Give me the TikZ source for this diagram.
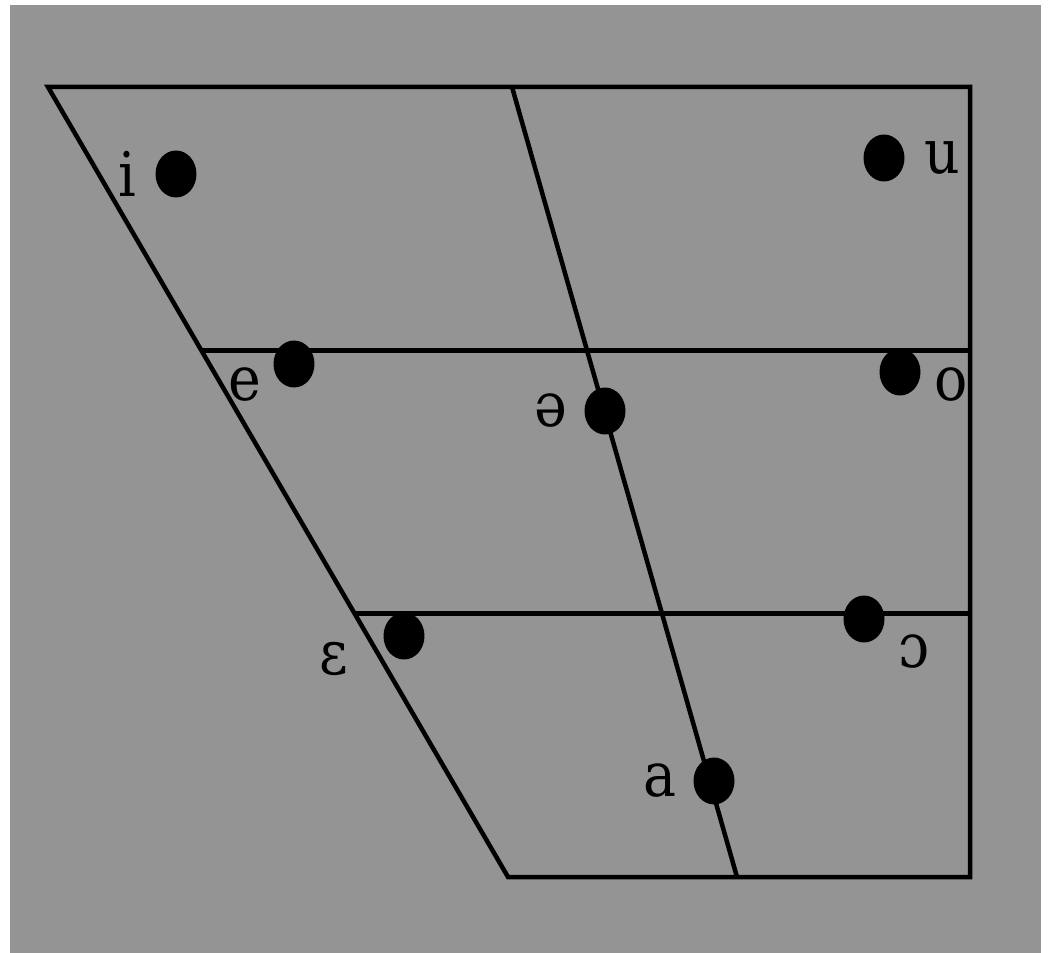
\documentclass[tikz,border=0pt]{standalone}
\usepackage{fontspec}
\setmainfont{DejaVu Serif}[FakeStretch=0.9]
\usetikzlibrary{shapes.geometric, positioning, calc}
\definecolor{chartgray}{RGB}{148,148,148}

\begin{document}
\begin{tikzpicture}[x=0.02cm, y=-0.02cm, line width=0.09cm,
    vowel/.style={fill=black, ellipse, inner sep=0pt, minimum width=0.82cm, minimum height=0.94cm},
    symb/.style={inner sep=0pt, font=\fontsize{35}{37}\selectfont}]
    % Background
    \fill[white] (0,0) rectangle (1049,953);
    \fill[chartgray] (10,5) rectangle (1041,953);
    \useasboundingbox (0,0) rectangle (1049,953);

    % Chart outline
    \coordinate (FrontHigh) at (48,87);
    \coordinate (BackHigh) at (970,87);
    \coordinate (BackLow) at (970,877);
    \coordinate (FrontLow) at (508,877);
    \coordinate (CentHigh) at (512,87);
    \coordinate (CentLow) at (737,877);
    \coordinate (FrontMidA) at ($(FrontHigh)!0.3333!(FrontLow)$);
    \coordinate (FrontMidB) at ($(FrontHigh)!0.6667!(FrontLow)$);
    \coordinate (BackMidA) at ($(BackHigh)!0.3333!(BackLow)$);
    \coordinate (BackMidB) at ($(BackHigh)!0.6667!(BackLow)$);

    \draw[line join=miter] (FrontHigh) -- (BackHigh) -- (BackLow) -- (FrontLow) -- cycle;
    \draw (CentHigh) -- (CentLow);
    \draw (FrontMidA) -- (BackMidA);
    \draw (FrontMidB) -- (BackMidB);

    % Vowels
    \node[vowel] (idot) at (176,174) {};
    \node[vowel] (udot) at (884,158) {};
    \node[vowel] (edot) at (294,364) {};
    \node[vowel] (odot) at (900,372) {};
    \node[vowel] (schwadot) at (605,411) {};
    \node[vowel] (epsdot) at (404,636) {};
    \node[vowel] (openodot) at (864,619) {};
    \node[vowel] (adot) at (714,781) {};

    % Symbols
    \node[symb, left=0.30cm of idot] (ilab) {i};
    \node[symb, right=0.32cm of udot] (ulab) {u};
    \node[symb, left=0.16cm of edot, yshift=-0.42cm] (elab) {e};
    \node[symb, right=0.18cm of odot, yshift=-0.26cm] (olab) {o};
    \node[symb, left=0.26cm of schwadot] (schwalab) {ə};
    \node[symb, left=0.62cm of epsdot, yshift=-0.46cm] (epslab) {ɛ};
    \node[symb, right=0.20cm of openodot, yshift=-0.66cm] (openolab) {ɔ};
    \node[symb, left=0.26cm of adot] (alab) {a};
\end{tikzpicture}
\end{document}
